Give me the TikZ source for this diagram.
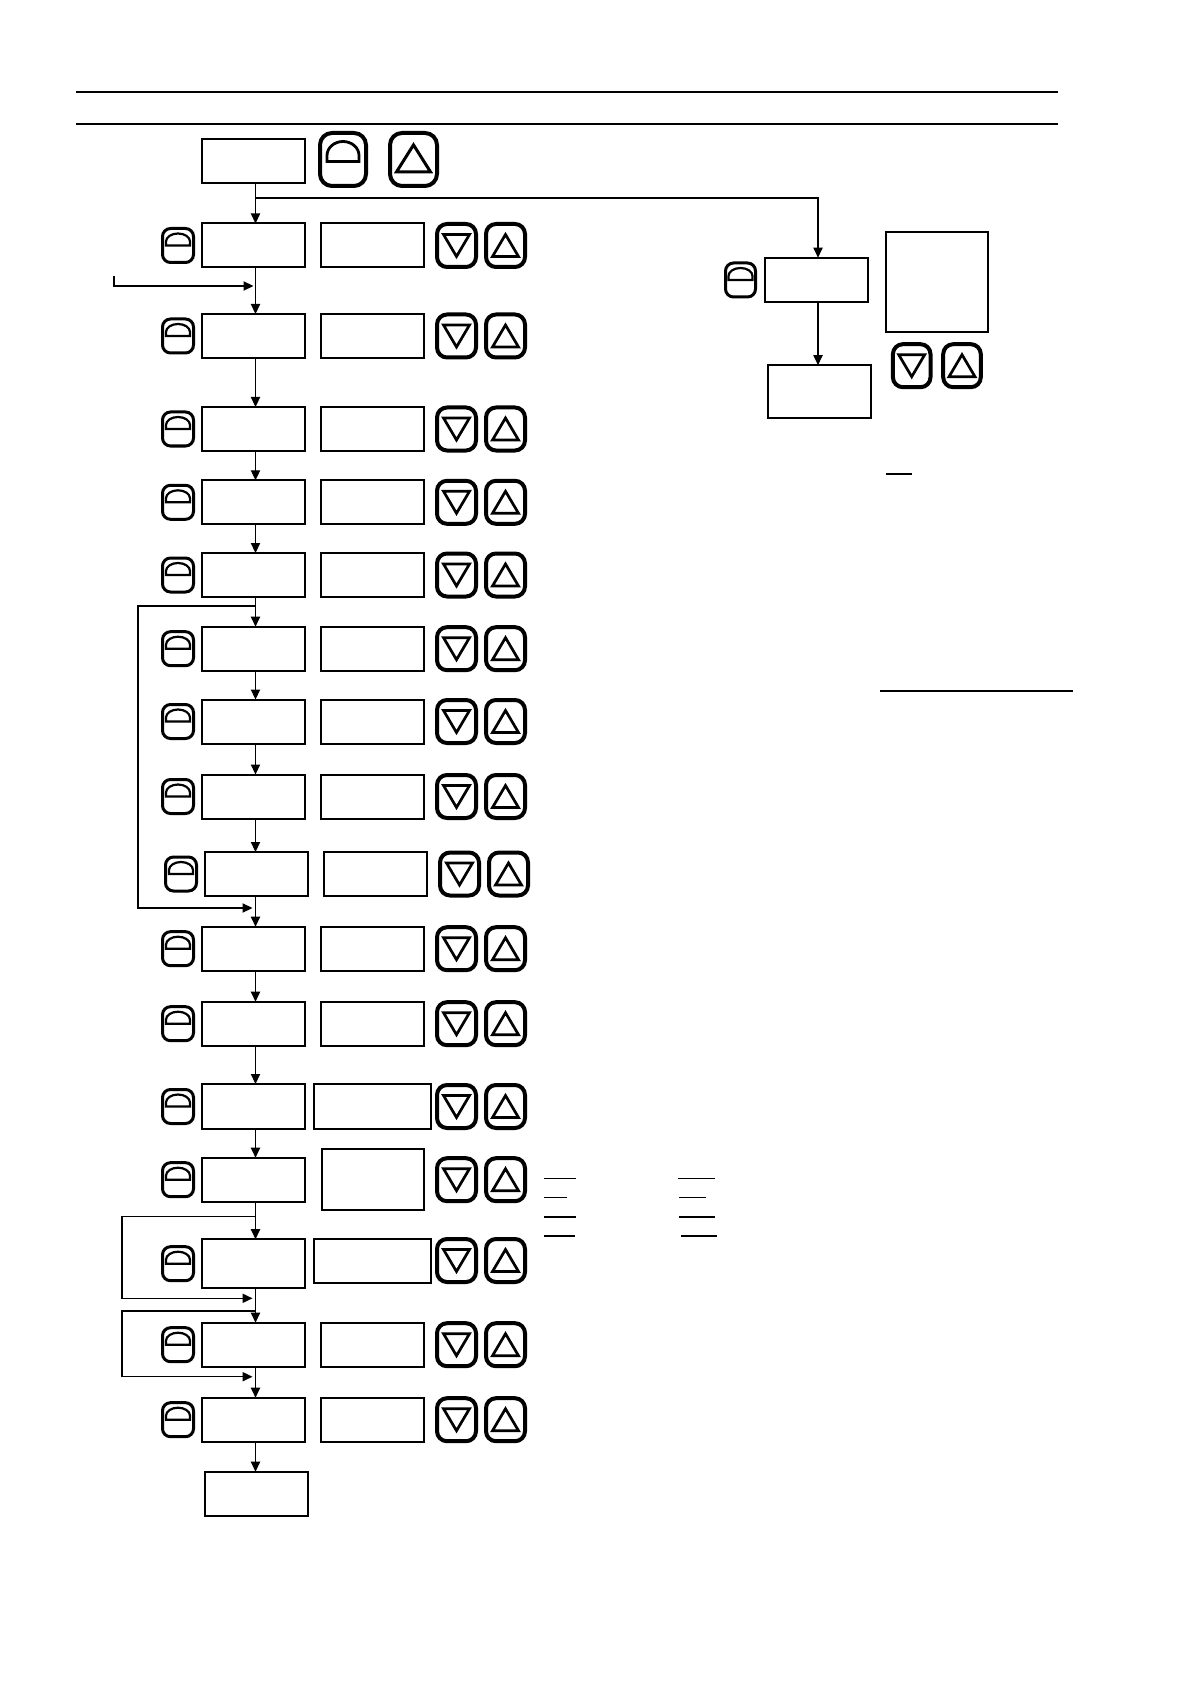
\documentclass[tikz,border=0pt]{standalone}
\usetikzlibrary{arrows.meta}
\begin{document}
\begin{tikzpicture}[x=0.5pt,y=-0.5pt,
  disp/.style={draw, line width=1pt, rectangle, inner sep=0pt, outer sep=0pt},
  entbtn/.style={draw, line width=1.5pt, rounded corners=4pt, minimum width=15.5pt,
    minimum height=17pt, inner sep=0pt, outer sep=0pt,
    path picture={\draw[line width=1.1pt, sharp corners]
      ([xshift=-6pt]path picture bounding box.center) -- ++(0pt,2pt)
      arc[start angle=180,end angle=0,x radius=6pt,y radius=4pt] -- ++(0pt,-2pt) -- cycle;}},
  bigent/.style={draw, line width=2pt, rounded corners=6pt, minimum width=23pt,
    minimum height=26.5pt, inner sep=0pt, outer sep=0pt,
    path picture={\draw[line width=1.4pt, sharp corners]
      ([shift={(-8pt,-1pt)}]path picture bounding box.center) -- ++(0pt,3pt)
      arc[start angle=180,end angle=0,x radius=8pt,y radius=7pt] -- ++(0pt,-3pt) -- cycle;}},
  dnbtn/.style={draw, line width=2pt, rounded corners=5pt, minimum width=19.5pt,
    minimum height=21.5pt, inner sep=0pt, outer sep=0pt,
    path picture={\draw[line width=1.35pt, sharp corners, line join=miter]
      ([shift={(-6.5pt,5.5pt)}]path picture bounding box.center) -- ++(13pt,0pt)
      -- ++(-6.5pt,-11pt) -- cycle;}},
  upbtn/.style={draw, line width=2pt, rounded corners=5pt, minimum width=19.5pt,
    minimum height=21.5pt, inner sep=0pt, outer sep=0pt,
    path picture={\draw[line width=1.35pt, sharp corners, line join=miter]
      ([shift={(-6.5pt,-5.5pt)}]path picture bounding box.center) -- ++(13pt,0pt)
      -- ++(-6.5pt,11pt) -- cycle;}},
  bigup/.style={draw, line width=2pt, rounded corners=6pt, minimum width=23.5pt,
    minimum height=26.5pt, inner sep=0pt, outer sep=0pt,
    path picture={\draw[line width=1.5pt, sharp corners, line join=miter]
      ([shift={(-8.5pt,-6.2pt)}]path picture bounding box.center) -- ++(17pt,0pt)
      -- ++(-8.5pt,13.5pt) -- cycle;}},
  conn/.style={line width=0.65pt},
  arr/.style={line width=0.65pt, -{Triangle[length=5pt,width=4.6pt]}},
  rule/.style={line width=1.3pt},
  uline/.style={line width=0.7pt}
]
\fill[white] (0,0) rectangle (1190,1684);
\useasboundingbox (0,0) rectangle (1190,1684);

% header rules
\draw[rule] (76,92) -- (1058,92);
\draw[rule] (76,124) -- (1058,124);

\coordinate (spine) at (255.5,0);

% top row
\node[disp, minimum width=51.5pt, minimum height=22pt] (a0) at (253.5,161) {};
\node[bigent] (e0) at (343,159.5) {};
\node[bigup] (u0) at (413.5,159.5) {};

% main rows: index / x offset / box1 y / box1 height / button y / box2 x / box2 width / box2 height
\foreach \i/\dx/\ya/\ha/\yb/\xb/\wb/\hb in {
  1/0/245.5/22/245.5/372.5/51.5/22,
  2/0/336/22/336/372.5/51.5/22,
  3/0/429/22/429/372.5/51.5/22,
  4/0/502.3/22/502.3/372.5/51.5/22,
  5/0/575/22/575/372.5/51.5/22,
  6/0/648.7/22/648.7/372.5/51.5/22,
  7/0/721.5/22/721.5/372.5/51.5/22,
  8/0/796.5/22/796.5/372.5/51.5/22,
  9/3/874/22/874/375.5/51.5/22,
  10/0/948.7/22/948.7/372.5/51.5/22,
  11/0/1023.7/22/1023.7/372.5/51.5/22,
  12/0/1106.5/22.5/1106.5/372.3/58.7/22.5,
  13/0/1179.7/22/1179.7/372.8/51/30.5,
  14/0/1263.7/24.5/1260.5/372.5/58.8/22,
  15/0/1344.7/22/1344.7/372.5/51.5/22,
  16/0/1419.7/22/1419.7/372.5/51.5/22}{
  \node[entbtn] (e\i) at (178+\dx,\ya) {};
  \node[disp, minimum width=51.5pt, minimum height=\ha pt] (a\i) at (253.5+\dx,\ya) {};
  \node[disp, minimum width=\wb pt, minimum height=\hb pt] (b\i) at (\xb,\yb) {};
  \node[dnbtn] (d\i) at (456.5+\dx,\yb) {};
  \node[upbtn] (u\i) at (505.5+\dx,\yb) {};
}
\node[disp, minimum width=51.5pt, minimum height=22.3pt] (fin) at (256,1494) {};

% spine arrows
\draw[arr] (a0.south -| spine) -- (a1.north -| spine);
\foreach \i in {1,...,15}{
  \pgfmathtruncatemacro{\j}{\i+1}
  \draw[arr] (a\i.south -| spine) -- (a\j.north -| spine);
}
\draw[arr] (a16.south -| spine) -- (fin.north -| spine);

% right branch
\node[disp, minimum width=51.5pt, minimum height=22.3pt] (rb1) at (816.7,280) {};
\node[disp, minimum width=51.5pt, minimum height=26.5pt] (rb2) at (819.5,391.7) {};
\node[entbtn, minimum width=15pt] (re) at (740.5,280) {};
\node[disp, minimum width=51pt, minimum height=50pt] (rsq) at (937,282.5) {};
\node[dnbtn, minimum width=18.8pt] (rd) at (911.7,365.7) {};
\node[upbtn, minimum width=18.8pt] (ru) at (962,365.7) {};
\coordinate (br) at (255.5,198);
\coordinate (brc) at (818,198);
\draw[arr] (br) -- (brc) -- (rb1.north -| brc);
\draw[arr] (rb1.south -| brc) -- (rb2.north -| brc);

% entry arrow from left
\coordinate (inA) at (114,276);
\coordinate (inB) at (114,286);
\draw[arr, shorten >=1pt] (inA) -- (inB) -- (inB -| spine);

% loop A
\coordinate (la1) at (138,606);
\coordinate (la2) at (138,908);
\draw[arr, shorten >=1.5pt] (la1 -| spine) -- (la1) -- (la2) -- (la2 -| spine);

% loop B
\coordinate (lb1) at (122,1216.7);
\coordinate (lb2) at (122,1298.3);
\draw[arr, shorten >=1.5pt] (lb1 -| spine) -- (lb1) -- (lb2) -- (lb2 -| spine);

% loop C
\coordinate (lc1) at (122,1311);
\coordinate (lc2) at (122,1376.7);
\draw[arr, shorten >=1.5pt] (lc1 -| spine) -- (lc1) -- (lc2) -- (lc2 -| spine);

% short rules (underlines)
\draw[line width=1pt] (886,474) -- (912,474);
\draw[line width=1pt] (880,691) -- (1073,691);
\draw[uline] (544,1178.3) -- (576,1178.3);
\draw[uline] (544,1197.3) -- (567,1197.3);
\draw[uline] (544,1217) -- (576,1217);
\draw[uline] (544,1236) -- (575,1236);
\draw[uline] (678,1178.3) -- (715,1178.3);
\draw[uline] (679,1197.3) -- (706,1197.3);
\draw[uline] (679,1217) -- (715,1217);
\draw[uline] (681,1236) -- (717,1236);
\end{tikzpicture}
\end{document}
